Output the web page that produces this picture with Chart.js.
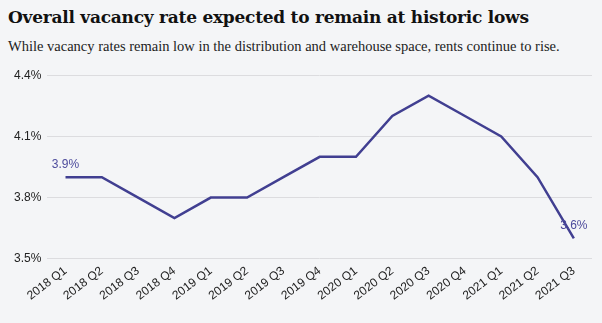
<!DOCTYPE html>
<html>
<head>
<meta charset="utf-8">
<script src="https://cdn.jsdelivr.net/npm/chart.js@4"></script>
<style>
  html, body { margin: 0; padding: 0; background: #f4f5f7; }
  body { width: 602px; height: 323px; overflow: hidden; position: relative; }
  #title { position: absolute; left: 8px; top: 7px; font-family: "DejaVu Serif", Georgia, serif; font-weight: bold; font-size: 17px; color: #111; white-space: nowrap; letter-spacing: -0.25px; }
  #subtitle { position: absolute; left: 8px; top: 38px; font-family: "Liberation Serif", Georgia, serif; font-size: 14.5px; color: #222; white-space: nowrap; }
  #wrap { position: absolute; left: 0; top: 62px; width: 602px; height: 261px; }
</style>
</head>
<body>
<div id="title">Overall vacancy rate expected to remain at historic lows</div>
<div id="subtitle">While vacancy rates remain low in the distribution and warehouse space, rents continue to rise.</div>
<div id="wrap"><canvas id="c"></canvas></div>
<script>
const categories = ["2018 Q1","2018 Q2","2018 Q3","2018 Q4","2019 Q1","2019 Q2","2019 Q3","2019 Q4","2020 Q1","2020 Q2","2020 Q3","2020 Q4","2021 Q1","2021 Q2","2021 Q3"];
const vacancyRate = [3.9, 3.9, 3.8, 3.7, 3.8, 3.8, 3.9, 4.0, 4.0, 4.2, 4.3, 4.2, 4.1, 3.9, 3.6];
const yTicks = [3.5, 3.8, 4.1, 4.4];
const labeledIndexes = [0, vacancyRate.length - 1];

const lineColor = "#413f91";

const endLabels = {
  id: "endLabels",
  afterDatasetsDraw(chart) {
    const ctx = chart.ctx;
    const meta = chart.getDatasetMeta(0);
    ctx.save();
    ctx.font = "12px 'Liberation Sans', Arial, sans-serif";
    ctx.fillStyle = "#4d4b9c";
    ctx.textAlign = "center";
    ctx.textBaseline = "bottom";
    labeledIndexes.forEach(i => {
      const p = meta.data[i];
      ctx.fillText(vacancyRate[i].toFixed(1) + "%", p.x, p.y - 7);
    });
    ctx.restore();
  }
};

new Chart(document.getElementById("c"), {
  type: "line",
  data: {
    labels: categories,
    datasets: [{
      data: vacancyRate,
      borderColor: lineColor,
      borderWidth: 2.5,
      pointRadius: 0,
      tension: 0,
      fill: false
    }]
  },
  options: {
    responsive: true,
    maintainAspectRatio: false,
    animation: false,
    layout: { padding: { left: 8, right: 10, top: 11, bottom: 15 } },
    plugins: { legend: { display: false }, tooltip: { enabled: false } },
    scales: {
      x: {
        offset: true,
        grid: { display: false, drawTicks: false },
        border: { display: false },
        ticks: {
          color: "#222",
          font: { family: "'Liberation Sans', Arial, sans-serif", size: 12 },
          maxRotation: 37, minRotation: 37, autoSkip: false, padding: 5
        }
      },
      y: {
        min: 3.5, max: 4.4,
        afterBuildTicks(scale) { scale.ticks = yTicks.map(v => ({ value: v })); },
        grid: { color: "#dcdcdf", drawTicks: false, lineWidth: 1 },
        border: { display: false },
        ticks: {
          color: "#222",
          padding: 6,
          font: { family: "'Liberation Sans', Arial, sans-serif", size: 12 },
          callback: v => v.toFixed(1) + "%"
        }
      }
    }
  },
  plugins: [endLabels]
});
</script>
</body>
</html>
